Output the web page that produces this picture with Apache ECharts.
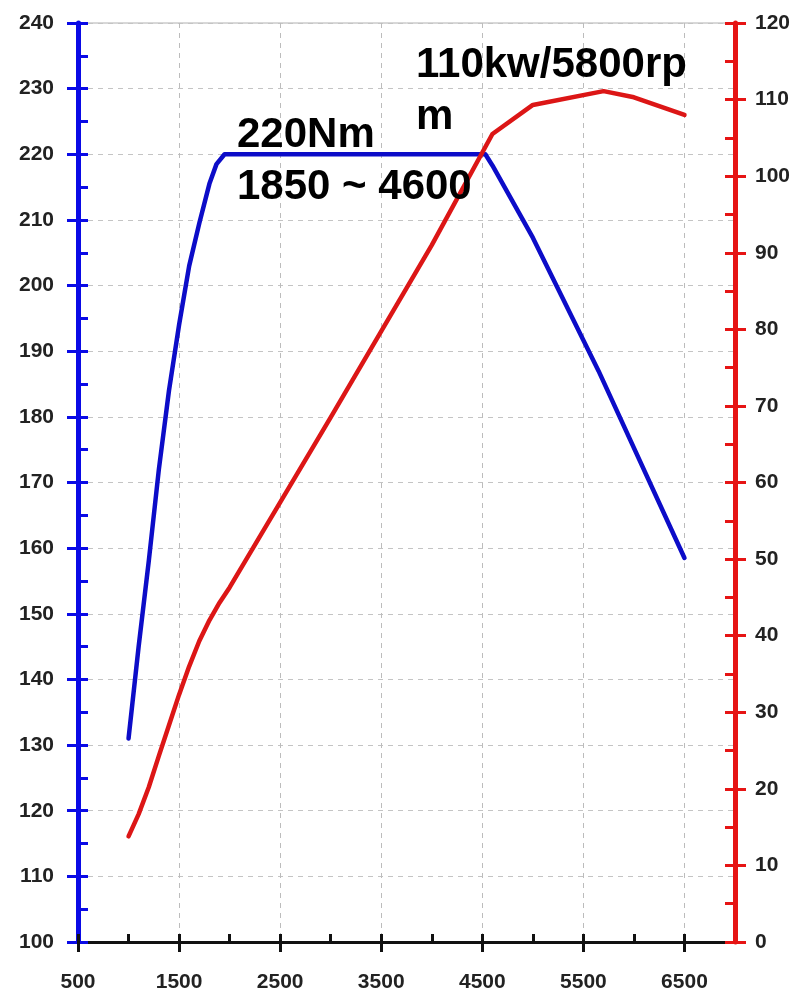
<!DOCTYPE html>
<html>
<head>
<meta charset="utf-8">
<script src="https://cdn.jsdelivr.net/npm/echarts@6/dist/echarts.min.js"></script>
<style>
    html, body { margin: 0; padding: 0; background: #fff; }
    #chart { width: 801px; height: 993px; }
</style>
</head>
<body>
<div id="chart"></div>
<script>
    // rpm axis ticks
    let rpmMajor = [500, 1500, 2500, 3500, 4500, 5500, 6500];
    let rpmMinor = [1000, 2000, 3000, 4000, 5000, 6000];

    // torque (Nm, left axis)
    let torqueRpm = [1000, 1100, 1200, 1300, 1400, 1500, 1600, 1700, 1800, 1870, 1950, 4530, 4600, 5000, 5650, 6500];
    let torqueNm = [131, 145, 158, 172, 184, 194, 203, 209.5, 215.5, 218.5, 220, 220, 218.3, 207.3, 187, 158.5];

    // power (kW, right axis)
    let powerRpm = [1000, 1100, 1200, 1300, 1400, 1500, 1600, 1700, 1800, 1900, 2000, 3000, 4000, 4600, 5000, 5700, 6000, 6500];
    let powerKw = [13.8, 16.7, 20.2, 24.3, 28.3, 32.3, 36, 39.3, 42, 44.3, 46.3, 68.5, 91, 105.5, 109.3, 111.1, 110.3, 108];

    let torqueMajor = [100, 110, 120, 130, 140, 150, 160, 170, 180, 190, 200, 210, 220, 230, 240];
    let torqueMinor = [105, 115, 125, 135, 145, 155, 165, 175, 185, 195, 205, 215, 225, 235];
    let powerMajor = [0, 10, 20, 30, 40, 50, 60, 70, 80, 90, 100, 110, 120];
    let powerMinor = [5, 15, 25, 35, 45, 55, 65, 75, 85, 95, 105, 115];

    let font = "'Liberation Sans', Arial, sans-serif";
    let blueAxis = '#0a0ae6';
    let redAxis = '#e61414';

    let myChart = echarts.init(document.getElementById('chart'));

    let labelStyle = {
        color: '#222',
        fontSize: 21,
        fontWeight: 'bold',
        fontFamily: font,
        formatter: (v) => String(v)
    };

    let option = {
        animation: false,
        grid: {
            left: 78, right: 66, top: 23, bottom: 51,
            show: true,
            borderColor: '#b0b0b0',
            borderWidth: 1
        },
        xAxis: [
            {
                // minor + major ticks pointing up, axis line
                type: 'value', min: 500, max: 7000, interval: 1000,
                axisLine: { show: true, onZero: false, lineStyle: { color: '#111', width: 3 } },
                axisTick: { show: true, inside: true, length: 8, lineStyle: { color: '#111', width: 3 },
                    customValues: rpmMajor.concat(rpmMinor) },
                axisLabel: { show: false },
                splitLine: { show: false }
            },
            {
                // major ticks pointing down, labels, grid lines
                type: 'value', min: 500, max: 7000, interval: 1000, position: 'bottom',
                axisLine: { show: false, onZero: false },
                axisTick: { show: true, inside: false, length: 10, lineStyle: { color: '#111', width: 3 },
                    customValues: rpmMajor },
                axisLabel: Object.assign({ margin: 30, customValues: rpmMajor }, labelStyle),
                splitLine: { show: true, lineStyle: { color: '#bcbcbc', type: [5, 5], width: 1 } }
            }
        ],
        yAxis: [
            {
                type: 'value', min: 100, max: 240, interval: 10, position: 'left',
                axisLine: { show: true, onZero: false, lineStyle: { color: blueAxis, width: 5 } },
                axisTick: { show: true, inside: false, length: 11, lineStyle: { color: blueAxis, width: 3 },
                    customValues: torqueMajor },
                axisLabel: Object.assign({ margin: 24, customValues: torqueMajor }, labelStyle),
                splitLine: { show: true, lineStyle: { color: '#c4c4c4', type: [5, 5], width: 1 } }
            },
            {
                type: 'value', min: 0, max: 120, interval: 10, position: 'right',
                axisLine: { show: true, onZero: false, lineStyle: { color: redAxis, width: 5 } },
                axisTick: { show: true, inside: false, length: 11, lineStyle: { color: redAxis, width: 3 },
                    customValues: powerMajor },
                axisLabel: Object.assign({ margin: 20, customValues: powerMajor }, labelStyle),
                splitLine: { show: false }
            },
            {
                // inside ticks for left axis
                type: 'value', min: 100, max: 240, interval: 10, position: 'left',
                axisLine: { show: false, onZero: false },
                axisTick: { show: true, inside: true, length: 10, lineStyle: { color: blueAxis, width: 3 },
                    customValues: torqueMajor.concat(torqueMinor) },
                axisLabel: { show: false },
                splitLine: { show: false }
            },
            {
                // inside ticks for right axis
                type: 'value', min: 0, max: 120, interval: 10, position: 'right',
                axisLine: { show: false, onZero: false },
                axisTick: { show: true, inside: true, length: 10, lineStyle: { color: redAxis, width: 3 },
                    customValues: powerMajor.concat(powerMinor) },
                axisLabel: { show: false },
                splitLine: { show: false }
            }
        ],
        series: [
            {
                name: 'torque',
                type: 'line',
                xAxisIndex: 0,
                yAxisIndex: 0,
                showSymbol: false,
                z: 3,
                lineStyle: { color: '#0c0cc8', width: 4.5, cap: 'round', join: 'round' },
                data: torqueRpm.map((r, i) => [r, torqueNm[i]])
            },
            {
                name: 'power',
                type: 'line',
                xAxisIndex: 0,
                yAxisIndex: 1,
                showSymbol: false,
                z: 4,
                lineStyle: { color: '#dc1616', width: 4.5, cap: 'round', join: 'round' },
                data: powerRpm.map((r, i) => [r, powerKw[i]])
            }
        ],
        graphic: [
            {
                type: 'text', left: 237, top: 109, z: 10,
                style: {
                    text: '220Nm\n1850 ~ 4600',
                    font: 'bold 42px ' + font,
                    lineHeight: 52,
                    fill: '#000'
                }
            },
            {
                type: 'text', left: 416, top: 39, z: 10,
                style: {
                    text: '110kw/5800rp\nm',
                    font: 'bold 42px ' + font,
                    lineHeight: 52,
                    fill: '#000'
                }
            }
        ]
    };

    myChart.setOption(option);
</script>
</body>
</html>
